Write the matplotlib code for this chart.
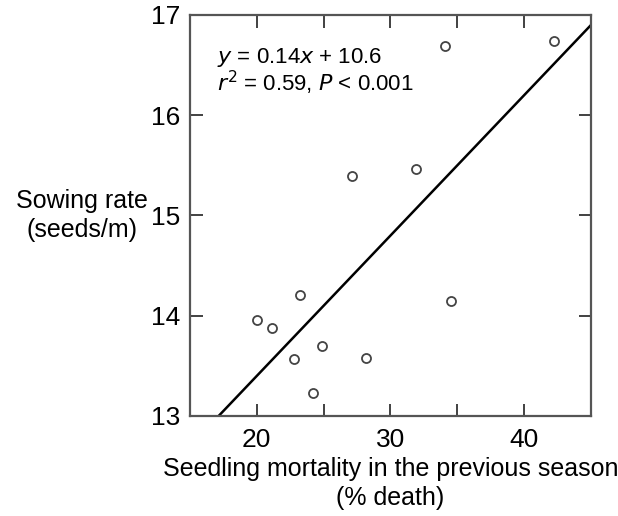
import matplotlib.pyplot as plt
from matplotlib.ticker import FixedLocator, NullFormatter

plt.rcParams['font.family'] = ['Liberation Sans', 'DejaVu Sans']

# seedling mortality (% death) vs sowing rate (seeds/m)
mortality = [20.0, 21.1, 23.2, 22.8, 24.9, 24.2, 28.2, 34.5, 34.05, 42.2, 27.13, 31.93]
sowing = [13.96, 13.88, 14.21, 13.57, 13.70, 13.23, 13.58, 14.15, 16.69, 16.74, 15.39, 15.46]

# regression fit
slope = 0.14
intercept = 10.6
fit_x = [15, 45]

fig = plt.figure(figsize=(6.18, 5.16), dpi=100)
ax = fig.add_axes([0.3074, 0.1938, 0.6489, 0.7772])

ax.plot(mortality, sowing, 'o', mfc='white', mec='#444444', mew=1.3, ms=6.5, zorder=3)
ax.plot(fit_x, [slope * v + intercept for v in fit_x], color='black', lw=1.8, zorder=2)

ax.set_xlim(15, 45)
ax.set_ylim(13, 17)
ax.set_xticks([20, 30, 40])
ax.xaxis.set_minor_locator(FixedLocator([25, 35]))
ax.xaxis.set_minor_formatter(NullFormatter())
ax.set_yticks([13, 14, 15, 16, 17])

for s in ax.spines.values():
    s.set_color('#555555')
    s.set_linewidth(1.6)

ax.tick_params(which='both', direction='in', top=True, right=True, length=9,
               width=1.3, color='#333333', labelsize=19, pad=7)
ax.tick_params(axis='x', pad=9)

ax.set_xlabel('Seedling mortality in the previous season\n(% death)', fontsize=18,
              linespacing=1.3, labelpad=3)
ax.set_ylabel('Sowing rate\n(seeds/m)', fontsize=18, rotation=0, linespacing=1.25,
              ha='center', va='center')
ax.yaxis.set_label_coords(-0.27, 0.5)

ax.text(0.068, 0.88, r'$\mathit{y}$ = 0.14$\mathit{x}$ + 10.6', transform=ax.transAxes,
        fontsize=16, va='baseline')
ax.text(0.068, 0.81, r'$\mathit{r}^2$ = 0.59, $\mathit{P}$ < 0.001', transform=ax.transAxes,
        fontsize=16, va='baseline')

fig.savefig('out.png', dpi=100)
